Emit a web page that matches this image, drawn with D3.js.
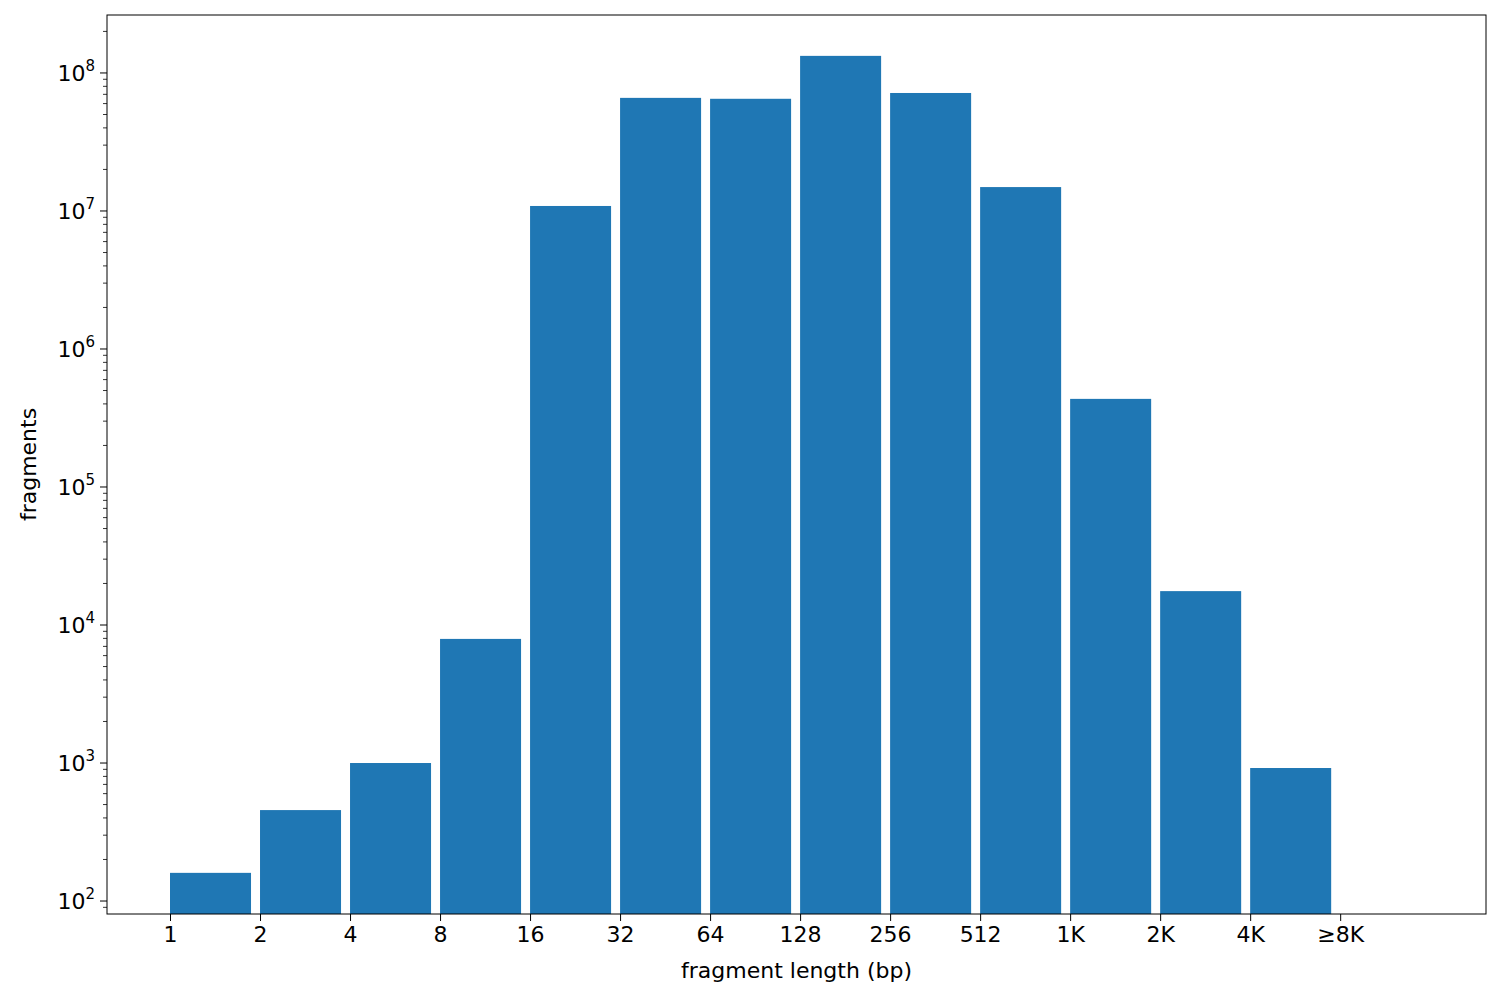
<!DOCTYPE html>
<html>
<head>
<meta charset="utf-8">
<script src="https://cdn.jsdelivr.net/npm/d3@7"></script>
<style>
  body { margin: 0; background: #fff; }
  text { font-family: "DejaVu Sans", sans-serif; }
</style>
</head>
<body>
<svg id="chart" width="1500" height="1000"></svg>
<script>
// bins and fragment counts
var labels = ["1", "2", "4", "8", "16", "32", "64", "128", "256", "512", "1K", "2K", "4K", "≥8K"];
var counts = [160, 456, 1000, 7930, 1.087e7, 6.6e7, 6.5e7, 1.33e8, 7.16e7, 1.49e7, 4.35e5, 1.76e4, 920];
var decades = [2, 3, 4, 5, 6, 7, 8];

var svg = d3.select("#chart");
var pLeft = 107, pRight = 1486, pTop = 15, pBottom = 914;

var x = d3.scaleLinear().domain([-0.7, 14.62]).range([pLeft, pRight]);
var y = d3.scaleLog().domain([Math.pow(10, 1.906), Math.pow(10, 8.42)]).range([pBottom, pTop]);

// bars, left edge aligned on tick
svg.append("g").selectAll("rect")
  .data(counts)
  .enter().append("rect")
  .attr("x", (d, i) => x(i))
  .attr("width", x(0.9) - x(0))
  .attr("y", d => y(d))
  .attr("height", d => pBottom - y(d))
  .attr("fill", "#1f77b4");

// x axis
var xAxis = d3.axisBottom(x)
  .tickValues(d3.range(labels.length))
  .tickFormat(i => labels[i])
  .tickSize(7).tickPadding(5);
var gx = svg.append("g").attr("transform", "translate(0," + pBottom + ")").call(xAxis);
gx.select(".domain").remove();
gx.attr("font-size", null).attr("font-family", null);
gx.selectAll("text").style("font-size", "22px").attr("fill", "#000");
gx.selectAll("line").attr("stroke", "#000");

// y axis: minor + major ticks, superscript labels
var gy = svg.append("g").attr("transform", "translate(" + pLeft + ",0)");
var minor = [];
for (var e = 1; e <= 8; e++) for (var m = 2; m <= 9; m++) {
  var v = m * Math.pow(10, e);
  if (v > y.domain()[0] && v < y.domain()[1]) minor.push(v);
}
gy.selectAll("line.minor").data(minor).enter().append("line")
  .attr("x1", -4).attr("x2", 0).attr("y1", d => y(d)).attr("y2", d => y(d))
  .attr("stroke", "#000").attr("stroke-width", 0.8);
gy.selectAll("line.major").data(decades).enter().append("line")
  .attr("x1", -7).attr("x2", 0).attr("y1", d => y(Math.pow(10, d))).attr("y2", d => y(Math.pow(10, d)))
  .attr("stroke", "#000");
var lab = gy.selectAll("text.tl").data(decades).enter().append("text")
  .attr("x", -12).attr("y", d => y(Math.pow(10, d)) + 8)
  .attr("text-anchor", "end").style("font-size", "22px");
lab.append("tspan").text("10");
lab.append("tspan").attr("dy", -10).style("font-size", "15px").text(d => d);

// frame
svg.append("rect").attr("x", pLeft).attr("y", pTop).attr("width", pRight - pLeft).attr("height", pBottom - pTop)
  .attr("fill", "none").attr("stroke", "#000").attr("stroke-width", 1);

// axis titles
svg.append("text").attr("x", (pLeft + pRight) / 2).attr("y", 978).attr("text-anchor", "middle")
  .style("font-size", "22px").text("fragment length (bp)");
svg.append("text").attr("transform", "translate(36," + (pTop + pBottom) / 2 + ") rotate(-90)")
  .attr("text-anchor", "middle").style("font-size", "22px").text("fragments");
</script>
</body>
</html>
